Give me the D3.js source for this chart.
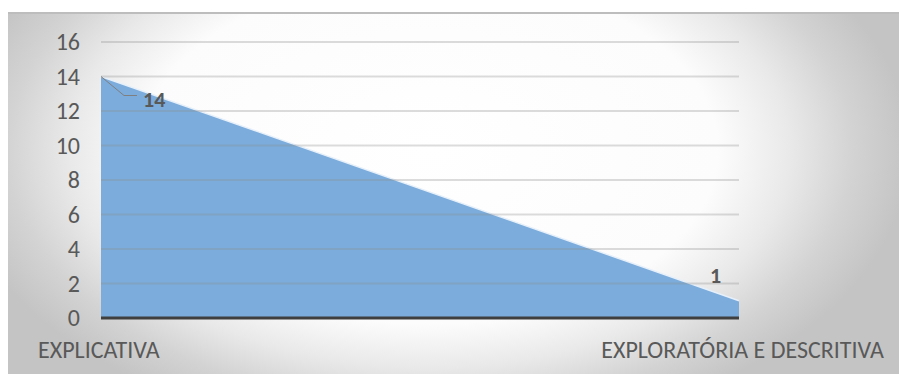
<!DOCTYPE html>
<html>
<head>
<meta charset="utf-8">
<script src="https://cdn.jsdelivr.net/npm/d3@7"></script>
<style>
body { margin: 0; background: #fff; }
svg { display: block; }
</style>
</head>
<body>
<div id="chart"></div>
<script>
'use strict';

const categories = ["EXPLICATIVA", "EXPLORATÓRIA E DESCRITIVA"];
const values = [14, 1];
const y_ticks = [0, 2, 4, 6, 8, 10, 12, 14, 16];

const width = 899, height = 374;
const margin = { top: 42, right: 160, bottom: 56, left: 101 };
const font = "Carlito, 'Open Sans', sans-serif";

const svg = d3.select("#chart").append("svg")
	.attr("width", width)
	.attr("height", height);

// background: elliptical grey-to-white gradient
const defs = svg.append("defs");
const grad = defs.append("radialGradient")
	.attr("id", "bg")
	.attr("gradientUnits", "userSpaceOnUse")
	.attr("cx", 0).attr("cy", 0).attr("r", 1)
	.attr("gradientTransform", "translate(430,150) scale(480,290)");
grad.append("stop").attr("offset", "0").attr("stop-color", "#ffffff");
grad.append("stop").attr("offset", "0.6").attr("stop-color", "#fcfcfc");
grad.append("stop").attr("offset", "0.75").attr("stop-color", "#e9e9e9");
grad.append("stop").attr("offset", "0.88").attr("stop-color", "#d3d3d3");
grad.append("stop").attr("offset", "1").attr("stop-color", "#c4c4c4");

svg.append("rect")
	.attr("x", 8).attr("y", 12)
	.attr("width", width - 8).attr("height", height - 12)
	.attr("fill", "url(#bg)");
svg.append("line")
	.attr("x1", 8).attr("x2", width)
	.attr("y1", 13).attr("y2", 13)
	.attr("stroke", "#bdbdbd").attr("stroke-width", 2);

const x = d3.scalePoint()
	.domain(categories)
	.range([margin.left, width - margin.right]);

const y = d3.scaleLinear()
	.domain([0, 16])
	.range([height - margin.bottom, margin.top]);

const data = categories.map((c, i) => ({ cat: c, val: values[i] }));

// area
const area = d3.area()
	.x(d => x(d.cat))
	.y0(y(0))
	.y1(d => y(d.val));

svg.append("path")
	.datum(data)
	.attr("d", area)
	.attr("fill", "#7cacdc");

const line = d3.line()
	.x(d => x(d.cat))
	.y(d => y(d.val));

svg.append("path")
	.datum(data)
	.attr("d", line)
	.attr("fill", "none")
	.attr("stroke", "#e6f0fa")
	.attr("stroke-width", 1.5);

// gridlines
svg.append("g")
	.attr("class", "grid")
	.selectAll("line")
	.data(y_ticks.filter(t => t > 0))
	.join("line")
		.attr("x1", margin.left)
		.attr("x2", width - margin.right)
		.attr("y1", d => y(d))
		.attr("y2", d => y(d))
		.attr("stroke", "#8c8c8c")
		.attr("stroke-opacity", 0.3)
		.attr("stroke-width", 2);

// y axis labels
const yAxis = d3.axisLeft(y).tickValues(y_ticks).tickSize(0).tickPadding(21);
const yg = svg.append("g")
	.attr("transform", `translate(${margin.left},0)`)
	.call(yAxis);
yg.select(".domain").remove();
yg.selectAll("text")
	.attr("font-family", font)
	.attr("font-size", 24)
	.attr("fill", "#595959");

// x axis
svg.append("line")
	.attr("x1", margin.left).attr("x2", width - margin.right)
	.attr("y1", y(0)).attr("y2", y(0))
	.attr("stroke", "#3f3f3f").attr("stroke-width", 3);

svg.append("g")
	.selectAll("text")
	.data(categories)
	.join("text")
		.attr("x", (d, i) => i === 0 ? 38 : 884)
		.attr("y", 358)
		.attr("text-anchor", (d, i) => i === 0 ? "start" : "end")
		.attr("font-family", font)
		.attr("font-size", 24)
		.attr("fill", "#595959")
		.text(d => d);

// data labels
const x0 = x(categories[0]), y0 = y(values[0]);
svg.append("path")
	.attr("d", `M${x0},${y0}L${x0 + 23},${y0 + 19}H${x0 + 36}`)
	.attr("fill", "none")
	.attr("stroke", "#7f7f7f")
	.attr("stroke-width", 1);

svg.append("g")
	.selectAll("text")
	.data(data)
	.join("text")
		.attr("x", (d, i) => i === 0 ? x(d.cat) + 42 : x(d.cat) - 29)
		.attr("y", (d, i) => i === 0 ? y(d.val) + 30 : y(d.val) - 18)
		.attr("font-family", font)
		.attr("font-size", 22)
		.attr("font-weight", "bold")
		.attr("fill", "#595959")
		.text(d => d.val);
</script>
</body>
</html>
